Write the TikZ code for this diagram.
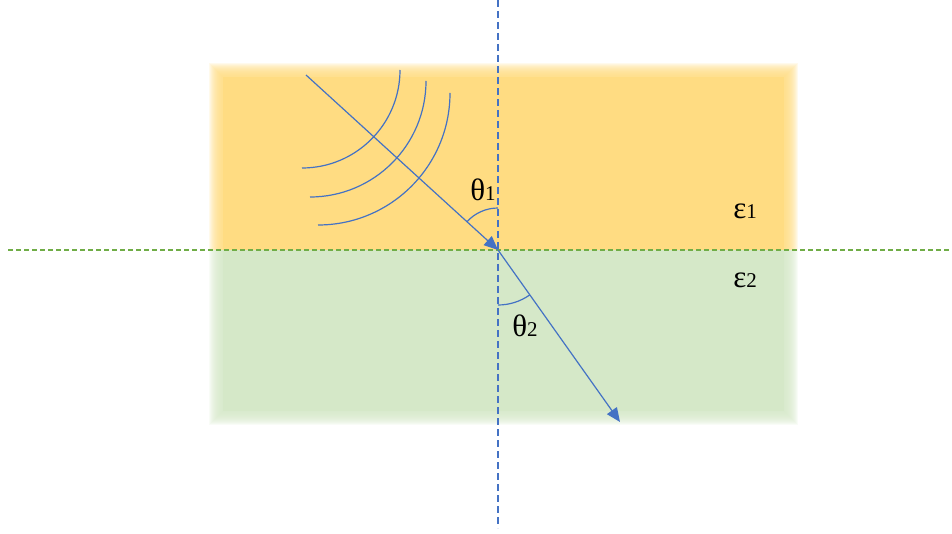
\documentclass[tikz,border=0pt]{standalone}
\usepackage{fontspec}
\setmainfont{Liberation Serif}
\definecolor{MediumOne}{HTML}{FFDC82}
\definecolor{MediumTwo}{HTML}{D5E8C8}
\definecolor{RayBlue}{HTML}{4472C4}
\definecolor{IfaceGreen}{HTML}{70AD47}
\usetikzlibrary{arrows.meta,positioning,calc}

\begin{document}
\begin{tikzpicture}[
						x=1pt, y=1pt,
						ray/.style={draw=RayBlue, line width=1.2pt},
						wave/.style={draw=RayBlue, line width=1.2pt},
						normal/.style={draw=RayBlue, line width=1.6pt, dash pattern=on 7pt off 4pt},
						iface/.style={draw=IfaceGreen, line width=1.3pt, dash pattern=on 5pt off 3pt},
						lbl/.style={font=\fontsize{31}{33}\selectfont, inner sep=0pt},
						>={Triangle[length=14pt,width=12pt]}
					]
						\useasboundingbox (0,0) rectangle (952,533);

						% the two media, soft edged
						\fill[MediumOne] (223,283) rectangle (784,456);
						\foreach \d in {1,...,14}
							\fill[MediumOne, opacity=0.15] (223-\d,283) rectangle (784+\d,456+\d);
						\fill[MediumTwo] (223,122) rectangle (784,283);
						\foreach \d in {1,...,14}
							\fill[MediumTwo, opacity=0.15] (223-\d,122-\d) rectangle (784+\d,283);

						\coordinate (O) at (498,283);
						\coordinate (src) at (306,458);
						\coordinate (dst) at (620,111);
						\coordinate (ntop) at (498,533);
						\coordinate (nbot) at (498,5);
						\coordinate (ileft) at (8,283);
						\coordinate (iright) at (952,283);

						\draw[iface] (ileft) -- (iright);
						\draw[normal] (ntop) -- (nbot);

						\draw[ray, ->] (src) -- (O);
						\draw[ray, ->] (O) -- (dst);

						% wave fronts
						\draw[wave] (400,463) arc[start angle=0, end angle=-90, radius=98pt];
						\draw[wave] (426,452) arc[start angle=0, end angle=-90, radius=116pt];
						\draw[wave] (450,440) arc[start angle=0, end angle=-90, radius=132pt];

						% angles
						\draw[wave] (O) ++(90:42pt) arc[start angle=90, end angle=137.7, radius=42pt];
						\draw[wave] (O) ++(-90:55pt) arc[start angle=-90, end angle=-54.6, radius=55pt];

						\node[lbl] (th1) at (483,343) {θ{\fontsize{21}{22}\selectfont 1}};
						\node[lbl] (th2) at (525,207) {θ{\fontsize{21}{22}\selectfont 2}};
						\node[lbl] (eps1) at (745,322) {ε{\fontsize{21}{22}\selectfont 1}};
						\node[lbl] (eps2) at (745,253) {ε{\fontsize{21}{22}\selectfont 2}};
					\end{tikzpicture}
\end{document}
